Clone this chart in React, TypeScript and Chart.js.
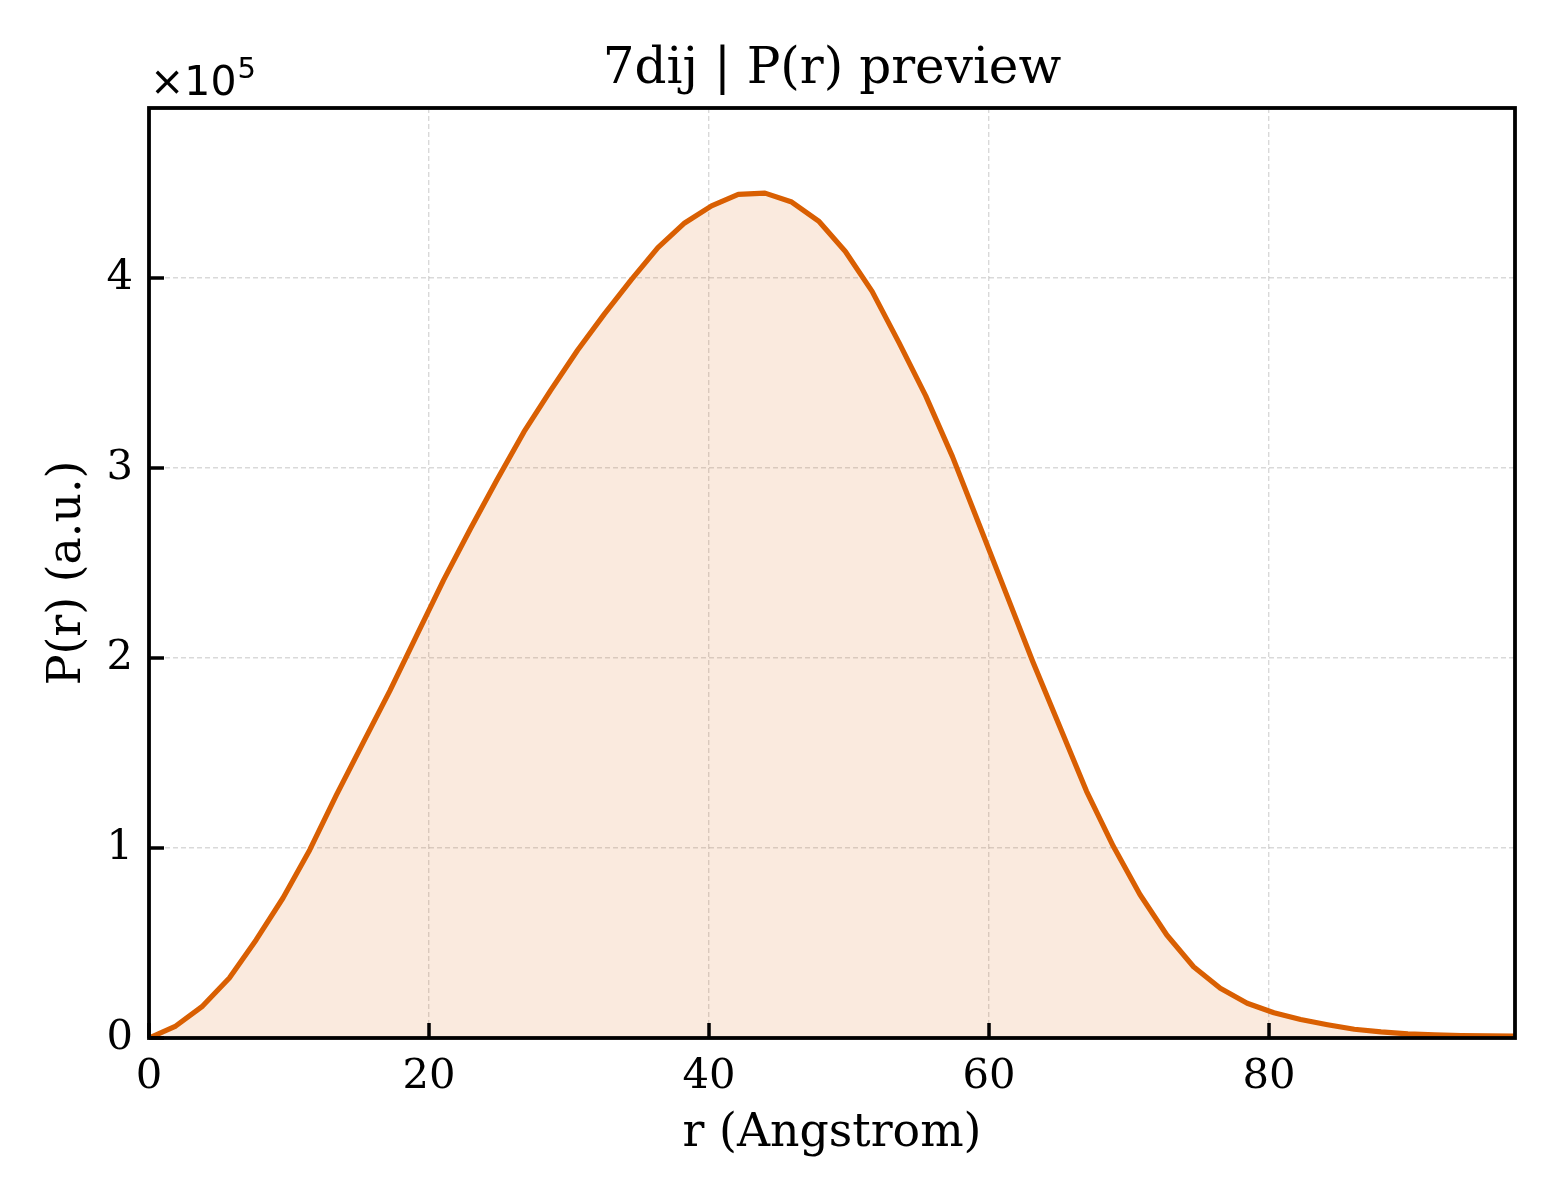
import { useEffect, useRef } from 'react';
import Chart from 'chart.js/auto';

const rValues = [
  0, 1.91, 3.83, 5.74, 7.65, 9.57, 11.48, 13.39, 15.3, 17.22,
  19.13, 21.04, 22.96, 24.87, 26.78, 28.7, 30.61, 32.52, 34.44, 36.35,
  38.26, 40.18, 42.09, 44.0, 45.91, 47.83, 49.74, 51.65, 53.57, 55.48,
  57.39, 59.31, 61.22, 63.13, 65.05, 66.96, 68.87, 70.78, 72.7, 74.61,
  76.52, 78.44, 80.35, 82.26, 84.18, 86.09, 88.0, 89.92, 91.83, 93.74,
  95.66, 97.57,
];
const prValues = [
  0, 6300, 16800, 31600, 51600, 73700, 99000, 128000, 155500, 183000,
  212000, 241000, 268000, 294000, 319000, 341000, 362000, 381000, 399000, 416000,
  429000, 438000, 444000, 444700, 440000, 430000, 414000, 393000, 366000, 338000,
  306000, 270000, 234000, 198000, 164000, 130000, 101000, 75500, 54200, 37500,
  26200, 18300, 13300, 9700, 7000, 4600, 3200, 2200, 1600, 1300,
  1100, 1000,
];
const xTicks = [0, 20, 40, 60, 80];
const yTicks = [0, 100000, 200000, 300000, 400000];
const xMax = 97.57;
const yMax = 489500;

const TITLE = '7dij | P(r) preview';
const LINE_COLOR = '#d95f02';
const SERIF = '"DejaVu Serif", serif';

// frame, inward ticks, title and the x10^5 offset label
const framePlugin = {
  id: 'frame',
  afterDraw(chart: Chart) {
    const { ctx, chartArea } = chart;
    const { left, right, top, bottom } = chartArea;
    const xs = chart.scales.x;
    const ys = chart.scales.y;
    ctx.save();
    ctx.strokeStyle = '#000';
    ctx.lineWidth = 3.5;
    ctx.lineCap = 'butt';
    ctx.beginPath();
    xTicks.forEach((v) => {
      const px = xs.getPixelForValue(v);
      ctx.moveTo(px, bottom);
      ctx.lineTo(px, bottom - 15);
    });
    yTicks.forEach((v) => {
      const py = ys.getPixelForValue(v);
      ctx.moveTo(left, py);
      ctx.lineTo(left + 15, py);
    });
    ctx.stroke();
    ctx.lineWidth = 3.8;
    ctx.strokeRect(left, top, right - left, bottom - top);

    ctx.fillStyle = '#000';
    ctx.font = `50px ${SERIF}`;
    ctx.textAlign = 'center';
    ctx.textBaseline = 'alphabetic';
    ctx.fillText(TITLE, (left + right) / 2, top - 25);

    ctx.textAlign = 'left';
    ctx.font = '41px "DejaVu Sans", sans-serif';
    const base = '\u00d710';
    ctx.fillText(base, left + 1, top - 13);
    const w = ctx.measureText(base).width;
    ctx.font = '29px "DejaVu Sans", sans-serif';
    ctx.fillText('5', left + 1 + w + 1, top - 30);
    ctx.restore();
  },
};

export default function App() {
  const canvasRef = useRef<HTMLCanvasElement>(null);

  useEffect(() => {
    document.body.style.margin = '0';
    if (!canvasRef.current) return;
    const chart = new Chart(canvasRef.current, {
      type: 'line',
      data: {
        datasets: [
          {
            data: rValues.map((r, i) => ({ x: r, y: prValues[i] })),
            borderColor: LINE_COLOR,
            borderWidth: 5.2,
            borderJoinStyle: 'round',
            backgroundColor: 'rgba(217, 95, 2, 0.13)',
            fill: 'origin',
            pointRadius: 0,
            tension: 0,
          },
        ],
      },
      options: {
        animation: false,
        responsive: true,
        maintainAspectRatio: false,
        layout: { padding: { top: 108, right: 45, bottom: 0, left: 0 } },
        plugins: {
          legend: { display: false },
          tooltip: { enabled: false },
          title: { display: false },
        },
        scales: {
          x: {
            type: 'linear',
            min: 0,
            max: xMax,
            afterBuildTicks: (scale: any) => {
              scale.ticks = xTicks.map((v) => ({ value: v }));
            },
            afterFit: (scale: any) => {
              scale.height = 162;
            },
            grid: {
              color: 'rgba(0, 0, 0, 0.15)',
              lineWidth: 1.4,
              drawTicks: false,
            },
            border: { display: false, dash: [5, 3] },
            ticks: {
              padding: 14,
              color: '#000',
              font: { family: SERIF, size: 41.7 },
              maxRotation: 0,
              callback: (v: any) => String(v),
            },
            title: {
              display: true,
              text: 'r (Angstrom)',
              color: '#000',
              font: { family: SERIF, size: 45.8 },
              padding: { top: 0, bottom: 38 },
            },
          },
          y: {
            type: 'linear',
            min: 0,
            max: yMax,
            afterBuildTicks: (scale: any) => {
              scale.ticks = yTicks.map((v) => ({ value: v }));
            },
            afterFit: (scale: any) => {
              scale.width = 149;
            },
            grid: {
              color: 'rgba(0, 0, 0, 0.15)',
              lineWidth: 1.4,
              drawTicks: false,
            },
            border: { display: false, dash: [5, 3] },
            ticks: {
              padding: 16,
              color: '#000',
              font: { family: SERIF, size: 41.7 },
              callback: (v: any) => String(Math.round(Number(v) / 1e5)),
            },
            title: {
              display: true,
              text: 'P(r) (a.u.)',
              color: '#000',
              font: { family: SERIF, size: 45.8 },
              padding: { top: 41, bottom: 0 },
            },
          },
        },
      },
      plugins: [framePlugin],
    });
    return () => chart.destroy();
  }, []);

  return (
    <div style={{ width: 1560, height: 1200, position: 'relative', background: '#fff' }}>
      <canvas ref={canvasRef} />
    </div>
  );
}
